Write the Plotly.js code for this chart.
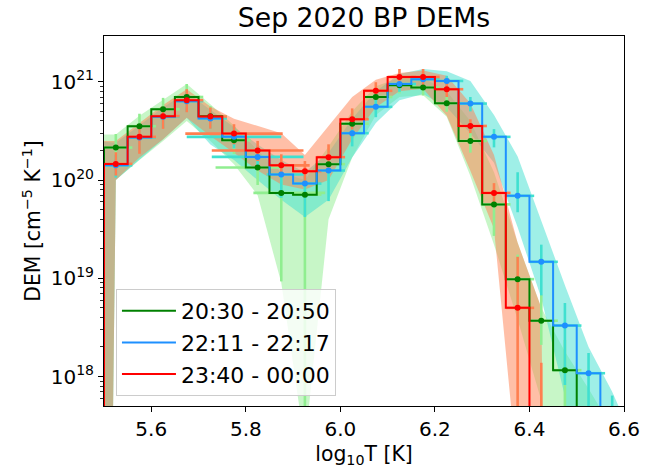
<!DOCTYPE html>
<html>
<head>
<meta charset="utf-8">
<script src="https://cdn.plot.ly/plotly-3.0.1.min.js"></script>
<style>html,body{margin:0;padding:0;background:#fff;}#chart{width:659px;height:468px;}</style>
</head>
<body>
<div id="chart"></div>
<script>
// Temperature bin centres (log10 T)
const logT = [5.475,5.525,5.575,5.625,5.675,5.725,5.775,5.825,5.875,5.925,5.975,6.025,6.075,6.125,6.175,6.225,6.275,6.325,6.375,6.425,6.475,6.525,6.575,6.625];

const seriesNames = ['20:30 - 20:50', '22:11 - 22:17', '23:40 - 00:00'];

// DEM values [cm^-5 K^-1]
const demGreen = [1e16,2.14e20,3.53e20,5.26e20,7.0e20,4.45e20,2.54e20,1.34e20,7.4e19,7.1e19,1.45e20,3.75e20,7.0e20,9.2e20,8.75e20,6.05e20,2.5e20,5.65e19,9.8e18,3.7e18,1.16e18,1e16,1e16,1e16];
const demBlue  = [1e16,1.41e20,2.71e20,4.4e20,6.35e20,4.24e20,2.75e20,1.72e20,1.14e20,9.2e19,1.25e20,3.0e20,5.56e20,9.5e20,1.06e21,1.02e21,6.0e20,2.75e20,6.9e19,1.47e19,3.3e18,1.08e18,1e16,1e16];
const demRed   = [1e16,1.46e20,2.75e20,4.47e20,6.5e20,4.43e20,2.97e20,2.0e20,1.41e20,1.23e20,1.71e20,4.16e20,8.1e20,1.12e21,1.12e21,8.4e20,3.55e20,7.4e19,5.0e18,1e16,1e16,1e16,1e16,1e16];

// Vertical error bars (plus / minus)
const errGreenPlus  = [0,0.8e20,1.2e20,1.6e20,2.5e20,1.2e20,0.8e20,0.5e20,0.3e20,0.3e20,0.5e20,1.0e20,1.6e20,1.8e20,1.7e20,1.3e20,0.65e20,2.5e19,7.6e18,3.1e18,1.2e18,0,0,0];
const errGreenMinus = [0,0.5e20,0.9e20,1.2e20,1.5e20,1.1e20,0.7e20,0.45e20,6.47e19,7.09e19,0.5e20,0.9e20,1.4e20,1.6e20,1.5e20,1.1e20,0.6e20,2.95e19,5e18,1.6e18,1.159e18,0,0,0];
const errBluePlus   = [0,0.4e20,0.8e20,1.1e20,1.5e20,1.0e20,0.7e20,0.5e20,0.3e20,0.18e20,0.4e20,0.8e20,1.3e20,1.8e20,1.8e20,1.3e20,1.0e20,0.55e20,5.1e19,7.3e18,2.3e18,6.6e17,6.3e17,0];
const errBlueMinus  = [0,0.35e20,0.7e20,1.0e20,1.4e20,0.9e20,0.65e20,0.45e20,0.48e20,0.5e20,0.64e20,0.8e20,1.2e20,1.6e20,1.6e20,1.1e20,1.0e20,0.6e20,2.2e19,8.0e18,2.48e18,1.079e18,0,0];
const errRedPlus    = [0,0.46e20,0.8e20,1.0e20,1.9e20,1.05e20,0.73e20,0.5e20,0.42e20,0.33e20,0.6e20,1.2e20,1.8e20,2.3e20,2.3e20,1.6e20,0.6e20,1.9e19,1.16e19,1.37e18,0,0,0,0];
const errRedMinus   = [0,0.35e20,0.9e20,1.15e20,1.6e20,1.1e20,0.66e20,0.44e20,0.31e20,0.25e20,0.42e20,0.9e20,1.5e20,2.0e20,2.0e20,1.4e20,0.55e20,2.0e19,4.999e18,0,0,0,0,0];

// Horizontal error bars (log10 T)
const xerrGreenPlus  = [0.035,0.035,0.035,0.035,0.035,0.035,0.035,0.053,0.093,0.035,0.035,0.035,0.035,0.035,0.035,0.035,0.035,0.035,0.035,0.035,0.035,0.035,0.035,0.035];
const xerrGreenMinus = [0.025,0.025,0.025,0.025,0.025,0.025,0.025,0.089,0.059,0.025,0.025,0.025,0.025,0.025,0.025,0.025,0.025,0.025,0.025,0.025,0.025,0.025,0.025,0.025];
const xerrBluePlus   = [0.035,0.035,0.035,0.035,0.035,0.035,0.100,0.097,0.048,0.035,0.035,0.035,0.035,0.035,0.035,0.035,0.035,0.035,0.035,0.035,0.035,0.035,0.035,0.035];
const xerrBlueMinus  = [0.025,0.025,0.025,0.025,0.025,0.025,0.100,0.097,0.031,0.025,0.025,0.025,0.025,0.025,0.025,0.025,0.025,0.025,0.025,0.025,0.025,0.025,0.025,0.025];
const xerrRedPlus    = [0.035,0.035,0.035,0.035,0.035,0.035,0.103,0.097,0.060,0.035,0.035,0.035,0.035,0.035,0.035,0.035,0.035,0.035,0.035,0.035,0.035,0.035,0.035,0.035];
const xerrRedMinus   = [0.025,0.025,0.025,0.025,0.025,0.025,0.103,0.097,0.024,0.025,0.025,0.025,0.025,0.025,0.025,0.025,0.025,0.025,0.025,0.025,0.025,0.025,0.025,0.025];

// Uncertainty bands (lower / upper)
const bandGreenLo = [1,1.0e20,1.6e20,2.5e20,4.0e20,2.5e20,1.45e20,7e19,9e18,2e17,4e19,1.7e20,4.6e20,7e20,7.3e20,4.4e20,1.1e20,2.2e19,3.8e18,5.7e17,1e16,1,1,1];
const bandGreenHi = [2.9e20,2.9e20,4.5e20,6.6e20,9.5e20,5.9e20,3.6e20,2.0e20,1.2e20,1.0e20,2.2e20,5.0e20,9e20,1.1e21,1.1e21,8e20,4e20,1.2e20,2.3e19,5e18,1.8e18,7.5e17,3e17,1e16];
const bandBlueLo  = [1,1.0e20,1.6e20,2.6e20,4.3e20,2.3e20,1.6e20,1.0e20,6.3e19,4.2e19,6.3e19,1.7e20,3.8e20,6.5e20,7.5e20,5.5e20,3.0e20,1.5e20,3.3e19,6.3e18,6.3e17,1,1,1];
const bandBlueHi  = [2.5e20,2.4e20,3.6e20,5.5e20,7.8e20,5.2e20,3.5e20,2.3e20,1.6e20,1.2e20,1.9e20,4.2e20,8e20,1.2e21,1.35e21,1.28e21,1.02e21,4.6e20,1.74e20,3.8e19,8.5e18,2.0e18,7e17,2e17];
const bandRedLo   = [1,1.0e20,1.7e20,2.6e20,4.3e20,2.8e20,1.9e20,1.25e20,9e19,8e19,1.0e20,2.6e20,5.5e20,8e20,8.5e20,4.5e20,1.24e20,3.2e19,1e17,1,1,1,1,1];
const bandRedHi   = [2.5e20,2.5e20,3.8e20,5.8e20,8.4e20,5.6e20,4.2e20,3.55e20,3.0e20,1.8e20,3.6e20,7.0e20,1.05e21,1.23e21,1.3e21,1.15e21,6e20,1.8e20,2.3e19,5e18,1,1,1,1];

const yTickVals = [1e18,1e19,1e20,1e21];
const yTickText = ['10<sup>18</sup>','10<sup>19</sup>','10<sup>20</sup>','10<sup>21</sup>'];
const xTickVals = [5.6,5.8,6.0,6.2,6.4,6.6];
const xTickText = ['5.6','5.8','6.0','6.2','6.4','6.6'];

const series = [
  {name: seriesNames[0], y: demGreen, ep: errGreenPlus, em: errGreenMinus, xp: xerrGreenPlus, xm: xerrGreenMinus, lo: bandGreenLo, hi: bandGreenHi,
   line: 'green', ecol: 'rgb(144,238,144)', fill: 'rgba(144,238,144,0.5)', grp: 'g'},
  {name: seriesNames[1], y: demBlue, ep: errBluePlus, em: errBlueMinus, xp: xerrBluePlus, xm: xerrBlueMinus, lo: bandBlueLo, hi: bandBlueHi,
   line: 'dodgerblue', ecol: 'rgb(64,224,208)', fill: 'rgba(64,224,208,0.5)', grp: 'b'},
  {name: seriesNames[2], y: demRed, ep: errRedPlus, em: errRedMinus, xp: xerrRedPlus, xm: xerrRedMinus, lo: bandRedLo, hi: bandRedHi,
   line: 'red', ecol: 'rgb(255,127,80)', fill: 'rgba(255,127,80,0.5)', grp: 'r'}
];

const traces = [];
series.forEach(s => {
  traces.push({
    x: logT.concat(logT.slice().reverse()),
    y: s.hi.concat(s.lo.slice().reverse()),
    type: 'scatter', mode: 'lines', fill: 'toself', fillcolor: s.fill,
    line: {width: 0, color: 'rgba(0,0,0,0)'}, hoverinfo: 'skip', showlegend: false, legendgroup: s.grp
  });
});
series.forEach(s => {
  traces.push({
    x: logT, y: s.y, type: 'scatter', mode: 'markers', marker: {opacity: 0, size: 1},
    error_y: {type: 'data', symmetric: false, array: s.ep, arrayminus: s.em, color: s.ecol, thickness: 2.6, width: 0},
    error_x: {type: 'data', symmetric: false, array: s.xp, arrayminus: s.xm, color: s.ecol, thickness: 2.6, width: 0},
    hoverinfo: 'skip', showlegend: false, legendgroup: s.grp
  });
});
series.forEach(s => {
  traces.push({
    x: logT, y: s.y, type: 'scatter', mode: 'lines', name: s.name,
    line: {color: s.line, width: 2, shape: 'hvh'}, legendgroup: s.grp
  });
});
series.forEach(s => {
  traces.push({
    x: logT, y: s.y, type: 'scatter', mode: 'markers',
    marker: {color: s.line, size: 6}, showlegend: false, legendgroup: s.grp, hoverinfo: 'skip'
  });
});

const minorVals = [];
for (let e = 17; e <= 21; e++) for (let m = 2; m <= 9; m++) minorVals.push(m * Math.pow(10, e));

const font = {family: 'DejaVu Sans, sans-serif', color: 'black'};
const layout = {
  width: 659, height: 468,
  margin: {l: 104, r: 35, t: 36, b: 62},
  paper_bgcolor: 'white', plot_bgcolor: 'white',
  font: Object.assign({size: 20}, font),
  title: {text: 'Sep 2020 BP DEMs', font: Object.assign({size: 26.7}, font), x: 0.5, xref: 'paper', y: 1 - 18/468, yref: 'container', yanchor: 'middle'},
  xaxis: {
    range: [5.5, 6.6], tickmode: 'array', tickvals: xTickVals, ticktext: xTickText,
    ticks: 'outside', ticklen: 5, tickwidth: 1, tickcolor: 'black',
    showline: true, linecolor: 'black', linewidth: 1, mirror: true,
    showgrid: false, zeroline: false, tickfont: Object.assign({size: 20}, font),
    title: {text: 'log<sub>10</sub>T [K]', font: Object.assign({size: 20.4}, font), standoff: 6}
  },
  yaxis: {
    type: 'log', range: [17.70, 21.466], tickmode: 'array', tickvals: yTickVals, ticktext: yTickText,
    ticks: 'outside', ticklen: 5, tickwidth: 1, tickcolor: 'black',
    minor: {tickmode: 'array', tickvals: minorVals, ticks: 'outside', ticklen: 3, tickwidth: 0.8, tickcolor: 'black', showgrid: false},
    showline: true, linecolor: 'black', linewidth: 1, mirror: true,
    showgrid: false, zeroline: false, tickfont: Object.assign({size: 20}, font),
    title: {text: 'DEM [cm<sup>\u22125</sup> K<sup>\u22121</sup>]', font: Object.assign({size: 20.4}, font), standoff: 4}
  },
  legend: {
    x: 0.023, y: 0.027, xanchor: 'left', yanchor: 'bottom',
    bgcolor: 'rgba(255,255,255,0.8)', bordercolor: '#cccccc', borderwidth: 1,
    font: Object.assign({size: 22}, font), tracegroupgap: 0, itemwidth: 54
  },
  showlegend: true
};

Plotly.newPlot('chart', traces, layout, {staticPlot: true, displayModeBar: false});
</script>
</body>
</html>
